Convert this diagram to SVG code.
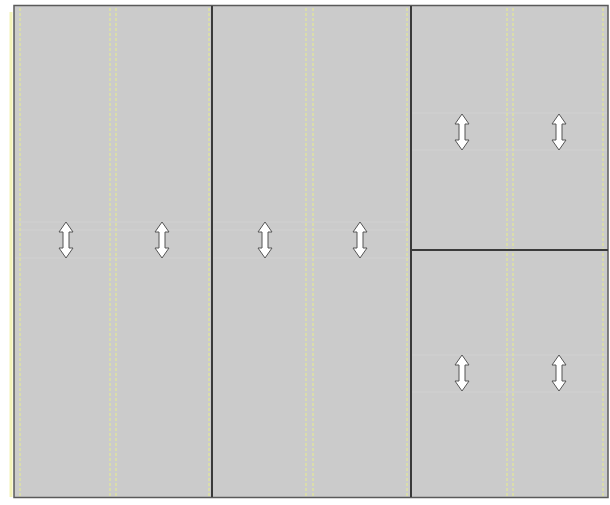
<svg xmlns="http://www.w3.org/2000/svg" width="610" height="505" viewBox="0 0 610 505">
<defs>
<style>
.panel{fill:#cbcbcb;stroke:#5a5a5a;stroke-width:1.5}
.div{stroke:#3a3a3a;stroke-width:2}
.guide{stroke:#e0e4a0;stroke-width:1.5;stroke-dasharray:3 2;fill:none}
.faint{stroke:#d1d1d1;stroke-width:1}
.arrow{fill:#ffffff;stroke:#555;stroke-width:1}
</style>
<path id="arr" d="M0,-18 L7,-8 L3,-8 L3,8 L7,8 L0,18 L-7,8 L-3,8 L-3,-8 L-7,-8 Z"/>
</defs>
<rect x="0" y="0" width="610" height="505" fill="#ffffff"/>
<line x1="11" y1="12" x2="11" y2="497" stroke="#f4f4b8" stroke-width="3"/>
<g id="frame">
<rect class="panel" x="14" y="5.5" width="594" height="492"/>
</g>
<g id="guides">
<line class="faint" x1="15" y1="222" x2="410" y2="222"/>
<line class="faint" x1="15" y1="230" x2="410" y2="230"/>
<line class="faint" x1="15" y1="258" x2="410" y2="258"/>
<line class="faint" x1="412" y1="113" x2="607" y2="113"/>
<line class="faint" x1="412" y1="150" x2="607" y2="150"/>
<line class="faint" x1="412" y1="355" x2="607" y2="355"/>
<line class="faint" x1="412" y1="392" x2="607" y2="392"/>
<line class="guide" x1="20" y1="8" x2="20" y2="497"/>
<line class="guide" x1="110" y1="8" x2="110" y2="497"/>
<line class="guide" x1="116" y1="8" x2="116" y2="497"/>
<line class="guide" x1="209" y1="8" x2="209" y2="497"/>
<line class="guide" x1="306" y1="8" x2="306" y2="497"/>
<line class="guide" x1="313" y1="8" x2="313" y2="497"/>
<line class="guide" x1="407" y1="8" x2="407" y2="497"/>
<line class="guide" x1="507" y1="8" x2="507" y2="497"/>
<line class="guide" x1="513" y1="8" x2="513" y2="497"/>
<line class="guide" x1="603" y1="8" x2="603" y2="497"/>
</g>
<g id="dividers">
<line class="div" x1="212" y1="6" x2="212" y2="497"/>
<line class="div" x1="411" y1="6" x2="411" y2="497"/>
<line class="div" x1="411" y1="250" x2="608" y2="250"/>
</g>
<g id="panel-1a"><use href="#arr" class="arrow" x="66" y="240"/></g>
<g id="panel-1b"><use href="#arr" class="arrow" x="162" y="240"/></g>
<g id="panel-2a"><use href="#arr" class="arrow" x="265" y="240"/></g>
<g id="panel-2b"><use href="#arr" class="arrow" x="360" y="240"/></g>
<g id="panel-3a"><use href="#arr" class="arrow" x="462" y="132"/></g>
<g id="panel-3b"><use href="#arr" class="arrow" x="559" y="132"/></g>
<g id="panel-4a"><use href="#arr" class="arrow" x="462" y="373"/></g>
<g id="panel-4b"><use href="#arr" class="arrow" x="559" y="373"/></g>
</svg>
